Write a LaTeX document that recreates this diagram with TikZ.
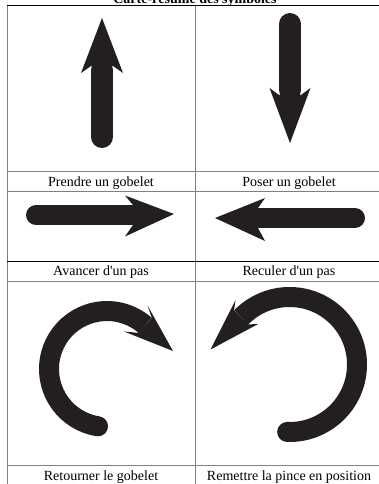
\documentclass[tikz,border=0pt]{standalone}
\usepackage{fontspec}
\setmainfont{Liberation Serif}[Ligatures=TeXOff]
\definecolor{ink}{HTML}{231F20}
\definecolor{rulegrey}{gray}{0.5}
\begin{document}
\begin{tikzpicture}[x=1pt,y=1pt,yscale=-1,
  rulegray/.style={draw=rulegrey, line width=1pt},
  ruleblack/.style={draw=black, line width=1pt},
  shaft/.style={draw=ink, line width=22pt, line cap=round},
  hshaft/.style={draw=ink, line width=20pt, line cap=round},
  band/.style={draw=ink, line width=20pt},
  headfill/.style={fill=ink},
  lbl/.style={font=\fontsize{14}{16}\selectfont, inner sep=0pt, anchor=base}]
\useasboundingbox (0,0) rectangle (378,484);
\fill[white] (0,0) rectangle (378,484);
% grid
\draw[rulegray] (7,6) -- (7,490);
\draw[rulegray] (195,6) -- (195,490);
\draw[rulegray] (383,6) -- (383,490);
\draw[rulegray] (7,171) -- (383,171);
\draw[rulegray] (7,191) -- (383,191);
\draw[rulegray] (7,281) -- (383,281);
\draw[rulegray] (7,465) -- (383,465);
\draw[ruleblack] (6.5,6) -- (383,6);
\draw[ruleblack] (7,261) -- (383,261);
% title
\node[lbl, font=\fontsize{14}{16}\selectfont\bfseries] (title) at (195,3.5) {Carte-résumé des symboles};
% labels
\node[lbl] (l1) at (101,186.5) {Prendre un gobelet};
\node[lbl] (l2) at (289,186.5) {Poser un gobelet};
\node[lbl] (l3) at (101,275.5) {Avancer d'un pas};
\node[lbl] (l4) at (289,275.5) {Reculer d'un pas};
\node[lbl] (l5) at (101,480.5) {Retourner le gobelet};
\node[lbl] (l6) at (289,480.5) {Remettre la pince en position};
% up arrow
\draw[shaft] (102,137) -- (102,70);
\fill[headfill] (102,18) -- (123,73) -- (113,66) -- (91,66) -- (81,73) -- cycle;
% down arrow
\draw[shaft] (290,24) -- (290,90);
\fill[headfill] (290,143) -- (269.5,88) -- (279,95) -- (301,95) -- (310.5,88) -- cycle;
% right arrow
\draw[hshaft] (36,215) -- (134,215);
\fill[headfill] (174,214) -- (125,195.5) -- (133,205) -- (133,225) -- (125,236.5) -- cycle;
% left arrow
\draw[hshaft] (355,218) -- (257,218);
\fill[headfill] (215,218) -- (265,198) -- (258,208) -- (258,228) -- (265,241) -- cycle;
% left curved arrow
\draw[band] (107,369) ++(98.9:58) arc[start angle=98.9, end angle=311.2, radius=58];
\fill[ink] (107,369) ++(98.9:58) circle[radius=10];
\fill[headfill] (173,351) -- (147.5,305.5) -- (151.8,317.8) -- (138.6,332.9) -- (124,331.5) -- cycle;
% right curved arrow
\draw[band] (289.5,364.5) ++(92:67.5) arc[start angle=92, end angle=-135.7, radius=67.5];
\fill[ink] (289.5,364.5) ++(92:67.5) circle[radius=10];
\fill[headfill] (210.5,349.5) -- (235.5,300.2) -- (234.0,310.4) -- (248.4,324.4) -- (258.2,324) -- cycle;
\end{tikzpicture}
\end{document}
